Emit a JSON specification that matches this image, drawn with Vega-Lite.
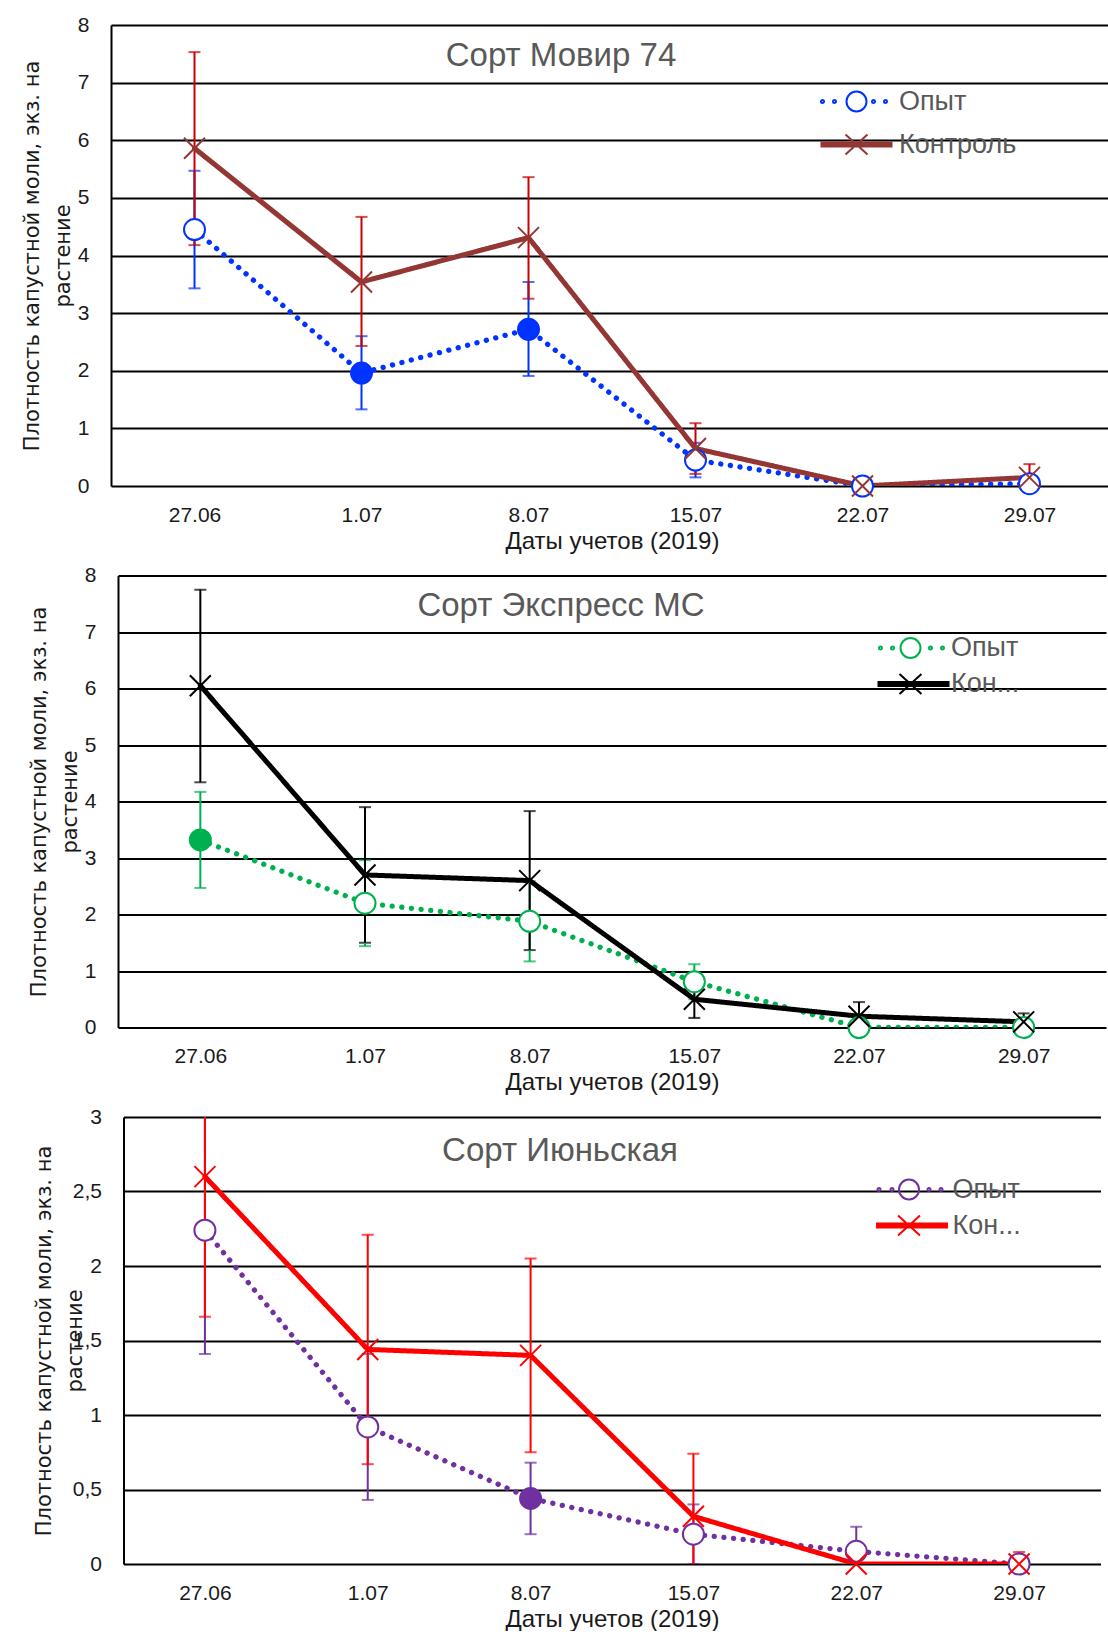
{
  "$schema": "https://vega.github.io/schema/vega-lite/v6.json",
  "background": "white",
  "padding": {"left": 20, "top": 14, "right": 0, "bottom": 0},
  "center": true,
  "spacing": 11.5,
  "config": {
    "view": {"stroke": null},
    "font": "Liberation Sans",
    "axis": {"labelFont": "Liberation Sans", "labelColor": "#1a1a1a", "titleColor": "#1a1a1a", "titleFontWeight": "normal"}
  },
  "datasets": {
    "movir": [
      {"Дата": "27.06", "Вариант": "Опыт", "Среднее": 4.45, "Нижняя": 3.43, "Верхняя": 5.47, "Значимо": false},
      {"Дата": "1.07", "Вариант": "Опыт", "Среднее": 1.96, "Нижняя": 1.33, "Верхняя": 2.6, "Значимо": true},
      {"Дата": "8.07", "Вариант": "Опыт", "Среднее": 2.72, "Нижняя": 1.91, "Верхняя": 3.54, "Значимо": true},
      {"Дата": "15.07", "Вариант": "Опыт", "Среднее": 0.45, "Нижняя": 0.15, "Верхняя": 0.75, "Значимо": false},
      {"Дата": "22.07", "Вариант": "Опыт", "Среднее": 0, "Нижняя": 0, "Верхняя": 0, "Значимо": false},
      {"Дата": "29.07", "Вариант": "Опыт", "Среднее": 0.04, "Нижняя": 0.04, "Верхняя": 0.04, "Значимо": false},
      {"Дата": "27.06", "Вариант": "Контроль", "Среднее": 5.86, "Нижняя": 4.18, "Верхняя": 7.53, "Значимо": false},
      {"Дата": "1.07", "Вариант": "Контроль", "Среднее": 3.54, "Нижняя": 2.43, "Верхняя": 4.67, "Значимо": false},
      {"Дата": "8.07", "Вариант": "Контроль", "Среднее": 4.31, "Нижняя": 3.25, "Верхняя": 5.36, "Значимо": false},
      {"Дата": "15.07", "Вариант": "Контроль", "Среднее": 0.65, "Нижняя": 0.21, "Верхняя": 1.09, "Значимо": false},
      {"Дата": "22.07", "Вариант": "Контроль", "Среднее": 0, "Нижняя": 0, "Верхняя": 0, "Значимо": false},
      {"Дата": "29.07", "Вариант": "Контроль", "Среднее": 0.15, "Нижняя": -0.08, "Верхняя": 0.38, "Значимо": false}
    ],
    "express": [
      {"Дата": "27.06", "Вариант": "Опыт", "Среднее": 3.32, "Нижняя": 2.47, "Верхняя": 4.17, "Значимо": true},
      {"Дата": "1.07", "Вариант": "Опыт", "Среднее": 2.2, "Нижняя": 1.44, "Верхняя": 2.96, "Значимо": false},
      {"Дата": "8.07", "Вариант": "Опыт", "Среднее": 1.88, "Нижняя": 1.17, "Верхняя": 2.59, "Значимо": false},
      {"Дата": "15.07", "Вариант": "Опыт", "Среднее": 0.81, "Нижняя": 0.5, "Верхняя": 1.12, "Значимо": false},
      {"Дата": "22.07", "Вариант": "Опыт", "Среднее": 0, "Нижняя": 0, "Верхняя": 0, "Значимо": false},
      {"Дата": "29.07", "Вариант": "Опыт", "Среднее": 0, "Нижняя": 0, "Верхняя": 0, "Значимо": false},
      {"Дата": "27.06", "Вариант": "Контроль", "Среднее": 6.05, "Нижняя": 4.34, "Верхняя": 7.75, "Значимо": false},
      {"Дата": "1.07", "Вариант": "Контроль", "Среднее": 2.7, "Нижняя": 1.5, "Верхняя": 3.9, "Значимо": false},
      {"Дата": "8.07", "Вариант": "Контроль", "Среднее": 2.6, "Нижняя": 1.37, "Верхняя": 3.83, "Значимо": false},
      {"Дата": "15.07", "Вариант": "Контроль", "Среднее": 0.5, "Нижняя": 0.17, "Верхняя": 0.83, "Значимо": false},
      {"Дата": "22.07", "Вариант": "Контроль", "Среднее": 0.2, "Нижняя": -0.05, "Верхняя": 0.45, "Значимо": false},
      {"Дата": "29.07", "Вариант": "Контроль", "Среднее": 0.1, "Нижняя": -0.05, "Верхняя": 0.25, "Значимо": false}
    ],
    "iyunskaya": [
      {"Дата": "27.06", "Вариант": "Опыт", "Среднее": 2.24, "Нижняя": 1.41, "Верхняя": 3.07, "Значимо": false},
      {"Дата": "1.07", "Вариант": "Опыт", "Среднее": 0.92, "Нижняя": 0.43, "Верхняя": 1.41, "Значимо": false},
      {"Дата": "8.07", "Вариант": "Опыт", "Среднее": 0.44, "Нижняя": 0.2, "Верхняя": 0.68, "Значимо": true},
      {"Дата": "15.07", "Вариант": "Опыт", "Среднее": 0.2, "Нижняя": 0, "Верхняя": 0.4, "Значимо": false},
      {"Дата": "22.07", "Вариант": "Опыт", "Среднее": 0.085, "Нижняя": -0.08, "Верхняя": 0.25, "Значимо": false},
      {"Дата": "29.07", "Вариант": "Опыт", "Среднее": 0, "Нижняя": 0, "Верхняя": 0, "Значимо": false},
      {"Дата": "27.06", "Вариант": "Контроль", "Среднее": 2.6, "Нижняя": 1.66, "Верхняя": 3.54, "Значимо": false},
      {"Дата": "1.07", "Вариант": "Контроль", "Среднее": 1.44, "Нижняя": 0.67, "Верхняя": 2.21, "Значимо": false},
      {"Дата": "8.07", "Вариант": "Контроль", "Среднее": 1.4, "Нижняя": 0.75, "Верхняя": 2.05, "Значимо": false},
      {"Дата": "15.07", "Вариант": "Контроль", "Среднее": 0.32, "Нижняя": -0.1, "Верхняя": 0.74, "Значимо": false},
      {"Дата": "22.07", "Вариант": "Контроль", "Среднее": 0, "Нижняя": 0, "Верхняя": 0, "Значимо": false},
      {"Дата": "29.07", "Вариант": "Контроль", "Среднее": 0, "Нижняя": -0.08, "Верхняя": 0.08, "Значимо": false}
    ]
  },
  "vconcat": [
    {
      "width": 1002,
      "height": 461,
      "data": {"name": "movir"},
      "title": {"text": "Сорт Мовир 74", "font": "Liberation Sans", "fontSize": 33, "fontWeight": "normal", "color": "#595959", "anchor": "middle", "frame": "group", "baseline": "alphabetic", "offset": 0, "dx": -51, "dy": 85},
      "encoding": {
        "x": {"field": "Дата", "type": "ordinal", "sort": ["27.06", "1.07", "8.07", "15.07", "22.07", "29.07"], "scale": {"type": "point", "padding": 0.5},
          "axis": {"domain": false, "ticks": false, "grid": false, "labelAngle": 0, "labelFontSize": 21, "labelPadding": 18, "title": "Даты учетов (2019)", "titleFontSize": 24, "titlePadding": 4}},
        "y": {"field": "Среднее", "type": "quantitative", "scale": {"domain": [0, 8], "nice": false},
          "axis": {"values": [0, 1, 2, 3, 4, 5, 6, 7, 8], "grid": true, "gridColor": "black", "gridWidth": 2, "domain": true, "domainColor": "black", "domainWidth": 2, "ticks": false, "labelPadding": 22, "labelFontSize": 21,
            "title": ["Плотность капустной моли, экз. на", "растение"], "titleFont": "DejaVu Sans", "titleFontSize": 21, "titleLineHeight": 31, "titleX": -69, "titleY": 230.5, "titleAngle": 270, "titleBaseline": "bottom", "titleAlign": "center"}}
      },
      "layer": [
        {
          "mark": {"type": "errorbar", "ticks": {"size": 12}, "thickness": 2, "clip": true},
          "encoding": {
            "y": {"field": "Нижняя", "type": "quantitative", "scale": {"domain": [0, 8], "nice": false},
              "axis": {"values": [0, 1, 2, 3, 4, 5, 6, 7, 8], "grid": true, "gridColor": "black", "gridWidth": 2, "domain": true, "domainColor": "black", "domainWidth": 2, "ticks": false, "labelPadding": 22, "labelFontSize": 21,
                "title": ["Плотность капустной моли, экз. на", "растение"], "titleFont": "DejaVu Sans", "titleFontSize": 21, "titleLineHeight": 31, "titleX": -69, "titleY": 230.5, "titleAngle": 270, "titleBaseline": "bottom", "titleAlign": "center"}},
            "y2": {"field": "Верхняя"},
            "color": {"field": "Вариант", "type": "nominal", "scale": {"domain": ["Опыт", "Контроль"], "range": ["#0033FF", "#CC0000"]}, "legend": null}
          }
        },
        {
          "mark": {"type": "line", "strokeCap": "round", "clip": true},
          "encoding": {
            "color": {"field": "Вариант", "type": "nominal", "scale": {"domain": ["Опыт", "Контроль"], "range": ["#0033FF", "#943634"]}, "legend": null},
            "strokeDash": {"field": "Вариант", "type": "nominal", "scale": {"domain": ["Опыт", "Контроль"], "range": [[0.1, 9.6], [1, 0]]}, "legend": null},
            "strokeWidth": {"field": "Вариант", "type": "nominal", "scale": {"domain": ["Опыт", "Контроль"], "range": [5.3, 5]}, "legend": null}
          }
        },
        {
          "mark": {"type": "point", "filled": false, "size": 441, "strokeWidth": 2, "opacity": 1},
          "encoding": {
            "shape": {"field": "Вариант", "type": "nominal", "scale": {"domain": ["Опыт", "Контроль"], "range": ["circle", "M-1,-1L1,1M-1,1L1,-1"]}, "legend": null},
            "color": {"field": "Вариант", "type": "nominal", "scale": {"domain": ["Опыт", "Контроль"], "range": ["#0033FF", "#943634"]}, "legend": null},
            "fill": {"condition": {"test": "datum['Значимо']", "value": "#0033FF"}, "value": "white"}
          }
        },
        {
          "mark": {"type": "point", "filled": false, "size": 400, "opacity": 0},
          "encoding": {
            "shape": {"field": "Вариант", "type": "nominal", "scale": {"domain": ["Опыт", "Контроль"], "range": ["M1,0A1,1 0 1,1 -1,0A1,1 0 1,1 1,0ZM-3.25,0A0.15,0.15 0 1,1 -3.55,0A0.15,0.15 0 1,1 -3.25,0ZM-2.05,0A0.15,0.15 0 1,1 -2.35,0A0.15,0.15 0 1,1 -2.05,0ZM1.85,0A0.15,0.15 0 1,1 1.55,0A0.15,0.15 0 1,1 1.85,0ZM3.05,0A0.15,0.15 0 1,1 2.75,0A0.15,0.15 0 1,1 3.05,0Z", "M-3.6,-0.2L3.6,-0.2M-3.6,0L3.6,0M-3.6,0.2L3.6,0.2M-1.1,-1L1.1,1M-1.1,1L1.1,-1"]},
              "legend": {"orient": "none", "legendX": 732, "legendY": 63, "title": null, "padding": 0, "labelFont": "Liberation Sans", "labelFontSize": 27, "labelColor": "#595959", "labelOffset": 29, "rowPadding": 14, "symbolSize": 400, "symbolStrokeWidth": 2, "symbolOpacity": 1}},
            "color": {"field": "Вариант", "type": "nominal", "scale": {"domain": ["Опыт", "Контроль"], "range": ["#0033FF", "#943634"]},
              "legend": {"orient": "none", "legendX": 732, "legendY": 63, "title": null, "padding": 0, "labelFont": "Liberation Sans", "labelFontSize": 27, "labelColor": "#595959", "labelOffset": 29, "rowPadding": 14, "symbolSize": 400, "symbolStrokeWidth": 2, "symbolOpacity": 1}}
          }
        }
      ],
      "resolve": {"scale": {"color": "independent", "shape": "independent"}}
    },
    {
      "width": 988,
      "height": 452,
      "data": {"name": "express"},
      "title": {"text": "Сорт Экспресс МС", "font": "Liberation Sans", "fontSize": 33, "fontWeight": "normal", "color": "#595959", "anchor": "middle", "frame": "group", "baseline": "alphabetic", "offset": 0, "dx": -51, "dy": 84},
      "encoding": {
        "x": {"field": "Дата", "type": "ordinal", "sort": ["27.06", "1.07", "8.07", "15.07", "22.07", "29.07"], "scale": {"type": "point", "padding": 0.5},
          "axis": {"domain": false, "ticks": false, "grid": false, "labelAngle": 0, "labelFontSize": 21, "labelPadding": 18, "title": "Даты учетов (2019)", "titleFontSize": 24, "titlePadding": 4}},
        "y": {"field": "Среднее", "type": "quantitative", "scale": {"domain": [0, 8], "nice": false},
          "axis": {"values": [0, 1, 2, 3, 4, 5, 6, 7, 8], "grid": true, "gridColor": "black", "gridWidth": 2, "domain": true, "domainColor": "black", "domainWidth": 2, "ticks": false, "labelPadding": 22, "labelFontSize": 21,
            "title": ["Плотность капустной моли, экз. на", "растение"], "titleFont": "DejaVu Sans", "titleFontSize": 21, "titleLineHeight": 31, "titleX": -69, "titleY": 226, "titleAngle": 270, "titleBaseline": "bottom", "titleAlign": "center"}}
      },
      "layer": [
        {
          "mark": {"type": "errorbar", "ticks": {"size": 12}, "thickness": 2, "clip": true},
          "encoding": {
            "y": {"field": "Нижняя", "type": "quantitative", "scale": {"domain": [0, 8], "nice": false},
              "axis": {"values": [0, 1, 2, 3, 4, 5, 6, 7, 8], "grid": true, "gridColor": "black", "gridWidth": 2, "domain": true, "domainColor": "black", "domainWidth": 2, "ticks": false, "labelPadding": 22, "labelFontSize": 21,
                "title": ["Плотность капустной моли, экз. на", "растение"], "titleFont": "DejaVu Sans", "titleFontSize": 21, "titleLineHeight": 31, "titleX": -69, "titleY": 226, "titleAngle": 270, "titleBaseline": "bottom", "titleAlign": "center"}},
            "y2": {"field": "Верхняя"},
            "color": {"field": "Вариант", "type": "nominal", "scale": {"domain": ["Опыт", "Контроль"], "range": ["#00B050", "#000000"]}, "legend": null}
          }
        },
        {
          "mark": {"type": "line", "strokeCap": "round", "clip": true},
          "encoding": {
            "color": {"field": "Вариант", "type": "nominal", "scale": {"domain": ["Опыт", "Контроль"], "range": ["#00B050", "#000000"]}, "legend": null},
            "strokeDash": {"field": "Вариант", "type": "nominal", "scale": {"domain": ["Опыт", "Контроль"], "range": [[0.1, 9.6], [1, 0]]}, "legend": null},
            "strokeWidth": {"field": "Вариант", "type": "nominal", "scale": {"domain": ["Опыт", "Контроль"], "range": [5.3, 5]}, "legend": null}
          }
        },
        {
          "mark": {"type": "point", "filled": false, "size": 441, "strokeWidth": 2, "opacity": 1},
          "encoding": {
            "shape": {"field": "Вариант", "type": "nominal", "scale": {"domain": ["Опыт", "Контроль"], "range": ["circle", "M-1,-1L1,1M-1,1L1,-1"]}, "legend": null},
            "color": {"field": "Вариант", "type": "nominal", "scale": {"domain": ["Опыт", "Контроль"], "range": ["#00B050", "#000000"]}, "legend": null},
            "fill": {"condition": {"test": "datum['Значимо']", "value": "#00B050"}, "value": "white"}
          }
        },
        {
          "mark": {"type": "point", "filled": false, "size": 400, "opacity": 0},
          "encoding": {
            "shape": {"field": "Вариант", "type": "nominal", "scale": {"domain": ["Опыт", "Контроль"], "range": ["M1,0A1,1 0 1,1 -1,0A1,1 0 1,1 1,0ZM-2.85,0A0.15,0.15 0 1,1 -3.15,0A0.15,0.15 0 1,1 -2.85,0ZM-1.65,0A0.15,0.15 0 1,1 -1.95,0A0.15,0.15 0 1,1 -1.65,0ZM2.15,0A0.15,0.15 0 1,1 1.85,0A0.15,0.15 0 1,1 2.15,0ZM3.35,0A0.15,0.15 0 1,1 3.05,0A0.15,0.15 0 1,1 3.35,0Z", "M-3.3,-0.2L3.9,-0.2M-3.3,0L3.9,0M-3.3,0.2L3.9,0.2M-1.1,-1L1.1,1M-1.1,1L1.1,-1"]},
              "legend": {"orient": "none", "legendX": 779, "legendY": 59, "title": null, "padding": 0, "labelFont": "Liberation Sans", "labelFontSize": 27, "labelColor": "#595959", "labelOffset": 27, "rowPadding": 7, "symbolSize": 400, "symbolStrokeWidth": 2, "symbolOpacity": 1, "labelExpr": "datum.label === 'Контроль' ? 'Кон...' : datum.label"}},
            "color": {"field": "Вариант", "type": "nominal", "scale": {"domain": ["Опыт", "Контроль"], "range": ["#00B050", "#000000"]},
              "legend": {"orient": "none", "legendX": 779, "legendY": 59, "title": null, "padding": 0, "labelFont": "Liberation Sans", "labelFontSize": 27, "labelColor": "#595959", "labelOffset": 27, "rowPadding": 7, "symbolSize": 400, "symbolStrokeWidth": 2, "symbolOpacity": 1, "labelExpr": "datum.label === 'Контроль' ? 'Кон...' : datum.label"}}
          }
        }
      ],
      "resolve": {"scale": {"color": "independent", "shape": "independent"}}
    },
    {
      "width": 977,
      "height": 447,
      "data": {"name": "iyunskaya"},
      "title": {"text": "Сорт Июньская", "font": "Liberation Sans", "fontSize": 33, "fontWeight": "normal", "color": "#595959", "anchor": "middle", "frame": "group", "baseline": "alphabetic", "offset": 0, "dx": -52, "dy": 88},
      "encoding": {
        "x": {"field": "Дата", "type": "ordinal", "sort": ["27.06", "1.07", "8.07", "15.07", "22.07", "29.07"], "scale": {"type": "point", "padding": 0.5},
          "axis": {"domain": false, "ticks": false, "grid": false, "labelAngle": 0, "labelFontSize": 21, "labelPadding": 18, "title": "Даты учетов (2019)", "titleFontSize": 24, "titlePadding": 4}},
        "y": {"field": "Среднее", "type": "quantitative", "scale": {"domain": [0, 3], "nice": false},
          "axis": {"values": [0, 0.5, 1, 1.5, 2, 2.5, 3], "labelExpr": "datum.value === floor(datum.value) ? format(datum.value, 'd') : replace(format(datum.value, '.1f'), '.', ',')", "grid": true, "gridColor": "black", "gridWidth": 2, "domain": true, "domainColor": "black", "domainWidth": 2, "ticks": false, "labelPadding": 22, "labelFontSize": 21,
            "title": ["Плотность капустной моли, экз. на", "растение"], "titleFont": "DejaVu Sans", "titleFontSize": 21, "titleLineHeight": 31, "titleX": -69, "titleY": 223.5, "titleAngle": 270, "titleBaseline": "bottom", "titleAlign": "center"}}
      },
      "layer": [
        {
          "mark": {"type": "errorbar", "ticks": {"size": 12}, "thickness": 2, "clip": true},
          "encoding": {
            "y": {"field": "Нижняя", "type": "quantitative", "scale": {"domain": [0, 3], "nice": false},
              "axis": {"values": [0, 0.5, 1, 1.5, 2, 2.5, 3], "labelExpr": "datum.value === floor(datum.value) ? format(datum.value, 'd') : replace(format(datum.value, '.1f'), '.', ',')", "grid": true, "gridColor": "black", "gridWidth": 2, "domain": true, "domainColor": "black", "domainWidth": 2, "ticks": false, "labelPadding": 22, "labelFontSize": 21,
                "title": ["Плотность капустной моли, экз. на", "растение"], "titleFont": "DejaVu Sans", "titleFontSize": 21, "titleLineHeight": 31, "titleX": -69, "titleY": 223.5, "titleAngle": 270, "titleBaseline": "bottom", "titleAlign": "center"}},
            "y2": {"field": "Верхняя"},
            "color": {"field": "Вариант", "type": "nominal", "scale": {"domain": ["Опыт", "Контроль"], "range": ["#7030A0", "#FF0000"]}, "legend": null}
          }
        },
        {
          "mark": {"type": "line", "strokeCap": "round", "clip": true},
          "encoding": {
            "color": {"field": "Вариант", "type": "nominal", "scale": {"domain": ["Опыт", "Контроль"], "range": ["#7030A0", "#FF0000"]}, "legend": null},
            "strokeDash": {"field": "Вариант", "type": "nominal", "scale": {"domain": ["Опыт", "Контроль"], "range": [[0.1, 9.6], [1, 0]]}, "legend": null},
            "strokeWidth": {"field": "Вариант", "type": "nominal", "scale": {"domain": ["Опыт", "Контроль"], "range": [5.3, 5]}, "legend": null}
          }
        },
        {
          "mark": {"type": "point", "filled": false, "size": 441, "strokeWidth": 2, "opacity": 1},
          "encoding": {
            "shape": {"field": "Вариант", "type": "nominal", "scale": {"domain": ["Опыт", "Контроль"], "range": ["circle", "M-1,-1L1,1M-1,1L1,-1"]}, "legend": null},
            "color": {"field": "Вариант", "type": "nominal", "scale": {"domain": ["Опыт", "Контроль"], "range": ["#7030A0", "#FF0000"]}, "legend": null},
            "fill": {"condition": {"test": "datum['Значимо']", "value": "#7030A0"}, "value": "white"}
          }
        },
        {
          "mark": {"type": "point", "filled": false, "size": 400, "opacity": 0},
          "encoding": {
            "shape": {"field": "Вариант", "type": "nominal", "scale": {"domain": ["Опыт", "Контроль"], "range": ["M1,0A1,1 0 1,1 -1,0A1,1 0 1,1 1,0ZM-2.85,0A0.15,0.15 0 1,1 -3.15,0A0.15,0.15 0 1,1 -2.85,0ZM-1.55,0A0.15,0.15 0 1,1 -1.85,0A0.15,0.15 0 1,1 -1.55,0ZM2.15,0A0.15,0.15 0 1,1 1.85,0A0.15,0.15 0 1,1 2.15,0ZM3.35,0A0.15,0.15 0 1,1 3.05,0A0.15,0.15 0 1,1 3.35,0Z", "M-3.3,-0.2L3.9,-0.2M-3.3,0L3.9,0M-3.3,0.2L3.9,0.2M-1.1,-1L1.1,1M-1.1,1L1.1,-1"]},
              "legend": {"orient": "none", "legendX": 772, "legendY": 59, "title": null, "padding": 0, "labelFont": "Liberation Sans", "labelFontSize": 27, "labelColor": "#595959", "labelOffset": 30, "rowPadding": 7, "symbolSize": 400, "symbolStrokeWidth": 2, "symbolOpacity": 1, "labelExpr": "datum.label === 'Контроль' ? 'Кон...' : datum.label"}},
            "color": {"field": "Вариант", "type": "nominal", "scale": {"domain": ["Опыт", "Контроль"], "range": ["#7030A0", "#FF0000"]},
              "legend": {"orient": "none", "legendX": 772, "legendY": 59, "title": null, "padding": 0, "labelFont": "Liberation Sans", "labelFontSize": 27, "labelColor": "#595959", "labelOffset": 30, "rowPadding": 7, "symbolSize": 400, "symbolStrokeWidth": 2, "symbolOpacity": 1, "labelExpr": "datum.label === 'Контроль' ? 'Кон...' : datum.label"}}
          }
        }
      ],
      "resolve": {"scale": {"color": "independent", "shape": "independent"}}
    }
  ]
}
